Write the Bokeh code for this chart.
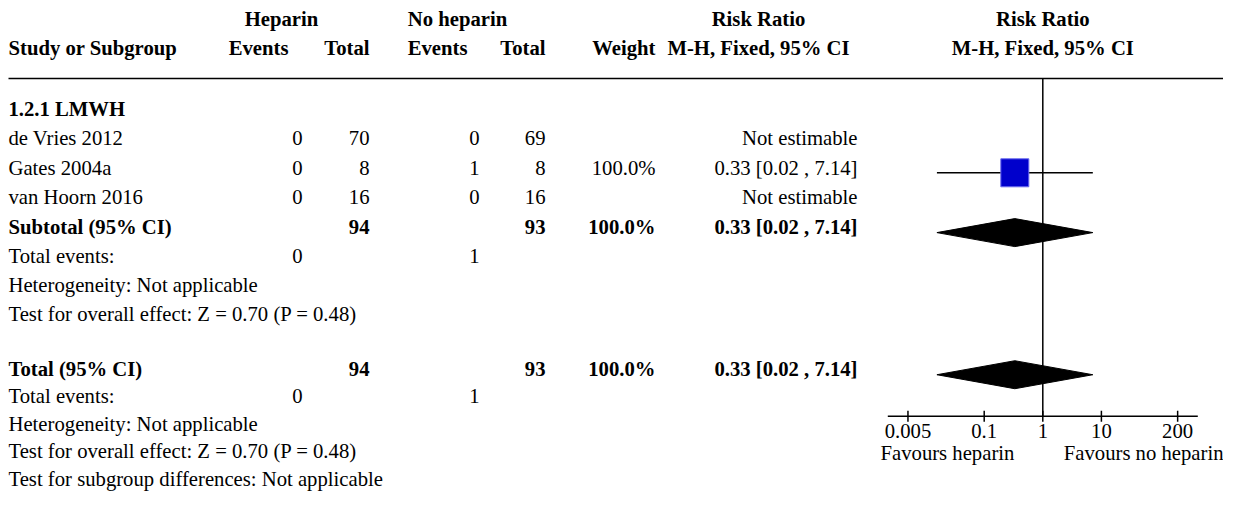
from bokeh.plotting import figure
from bokeh.models import Range1d, LogScale, ColumnDataSource
from bokeh.core.properties import value
from bokeh.embed import file_html
from bokeh.resources import INLINE

# ---------------- data ----------------
group_label = "1.2.1 LMWH"
studies = ["de Vries 2012", "Gates 2004a", "van Hoorn 2016"]
hep_events = [0, 0, 0]
hep_total = [70, 8, 16]
nohep_events = [0, 1, 0]
nohep_total = [69, 8, 16]
weights = [None, 100.0, None]
rr = [None, 0.333, None]
rr_lo = [None, 0.0156, None]
rr_hi = [None, 7.14, None]

subtotal_hep_total = 94
subtotal_nohep_total = 93
subtotal_weight = 100.0
subtotal_rr = [0.333, 0.0156, 7.14]
subtotal_hep_events = 0
subtotal_nohep_events = 1

total_hep_total = 94
total_nohep_total = 93
total_weight = 100.0
total_rr = [0.333, 0.0156, 7.14]
total_hep_events = 0
total_nohep_events = 1

heterogeneity = "Heterogeneity: Not applicable"
overall_effect = "Test for overall effect: Z = 0.70 (P = 0.48)"
subgroup_diff = "Test for subgroup differences: Not applicable"

tick_values = [0.005, 0.1, 1, 10, 200]
tick_labels = ["0.005", "0.1", "1", "10", "200"]
favours_left = "Favours heparin"
favours_right = "Favours no heparin"

# ---------------- layout ----------------
W, H = 1223, 491
FONT = value("Liberation Serif")
FS = "20.7px"
ROW0, PITCH = 108.5, 29.4
Y_KNEE, Y_LAST = 300.0, 478.0

def Y(v):
    """vertical layout position (gently compress the lower rows to fit the window)"""
    last = ROW0 + PITCH * 13
    if v <= Y_KNEE:
        return v
    return Y_KNEE + (v - Y_KNEE) * (Y_LAST - Y_KNEE) / (last - Y_KNEE)

def row(i):
    return Y(ROW0 + PITCH * i)

MARK_DY = 5.0
X_LEFT = 8
HE_R, HT_R, NE_R, NT_R, W_R, RR_R = 302, 369, 479, 545, 655, 857
CENTER_PX, PX_DEC = 1042.3, 58.6
AX_L_PX, AX_R_PX = 887.3, 1197.3
AX_Y, TICK_Y, FAV_Y = Y(424), Y(440), Y(463)
LINE_Y = 78

def px_to_rr(px):
    return 10 ** ((px - CENTER_PX) / PX_DEC)

def fmt_rr(v):
    return f"{v[0]:.2f} [{v[1]:.2f} , {v[2]:.2f}]"

p = figure(width=W, height=H, x_range=Range1d(0, W), y_range=Range1d(H, 0),
           output_backend="svg", toolbar_location=None,
           x_axis_location=None, y_axis_location=None, min_border=0)
p.outline_line_color = None
p.grid.visible = False
p.extra_x_ranges = {"rr": Range1d(px_to_rr(0), px_to_rr(W))}
p.extra_x_scales = {"rr": LogScale()}

def txt(x, y, t, align="left", bold=False, xr=None):
    kw = dict(x=x, y=y, text=t, text_font=FONT, text_font_size=FS,
              text_align=align, text_baseline="middle", text_color="black",
              text_font_style="bold" if bold else "normal")
    if xr:
        kw["x_range_name"] = xr
    p.text(**kw)

# headers
txt([281, 457, 758, CENTER_PX], [18] * 4,
    ["Heparin", "No heparin", "Risk Ratio", "Risk Ratio"], align="center", bold=True)
txt([X_LEFT], [47], ["Study or Subgroup"], bold=True)
txt([288, HT_R, 467, NT_R, W_R], [47] * 5, ["Events", "Total", "Events", "Total", "Weight"],
    align="right", bold=True)
txt([758, CENTER_PX], [47] * 2, ["M-H, Fixed, 95% CI"] * 2, align="center", bold=True)

p.segment(x0=[8], y0=[LINE_Y], x1=[1231], y1=[LINE_Y], line_color="black", line_width=1.5)

# group label
txt([X_LEFT], [row(0)], [group_label], bold=True)

# study rows
ys = [row(i + 1) for i in range(len(studies))]
txt([X_LEFT] * 3, ys, studies)
txt([HE_R] * 3, ys, [str(v) for v in hep_events], align="right")
txt([HT_R] * 3, ys, [str(v) for v in hep_total], align="right")
txt([NE_R] * 3, ys, [str(v) for v in nohep_events], align="right")
txt([NT_R] * 3, ys, [str(v) for v in nohep_total], align="right")
txt([W_R] * 3, ys, ["" if w is None else f"{w:.1f}%" for w in weights], align="right")
txt([RR_R] * 3, ys, ["Not estimable" if r is None else fmt_rr([r, l, h])
                     for r, l, h in zip(rr, rr_lo, rr_hi)], align="right")

# subtotal block
ys4 = row(4)
txt([X_LEFT], [ys4], ["Subtotal (95% CI)"], bold=True)
txt([HT_R, NT_R, W_R, RR_R], [ys4] * 4,
    [str(subtotal_hep_total), str(subtotal_nohep_total), f"{subtotal_weight:.1f}%", fmt_rr(subtotal_rr)],
    align="right", bold=True)
txt([X_LEFT, X_LEFT, X_LEFT], [row(5), row(6), row(7)], ["Total events:", heterogeneity, overall_effect])
txt([HE_R, NE_R], [row(5)] * 2, [str(subtotal_hep_events), str(subtotal_nohep_events)], align="right")

# total block
ys9 = row(9)
txt([X_LEFT], [ys9], ["Total (95% CI)"], bold=True)
txt([HT_R, NT_R, W_R, RR_R], [ys9] * 4,
    [str(total_hep_total), str(total_nohep_total), f"{total_weight:.1f}%", fmt_rr(total_rr)],
    align="right", bold=True)
txt([X_LEFT] * 4, [row(10), row(11), row(12), row(13)],
    ["Total events:", heterogeneity, overall_effect, subgroup_diff])
txt([HE_R, NE_R], [row(10)] * 2, [str(total_hep_events), str(total_nohep_events)], align="right")

# ---------------- forest plot ----------------
p.segment(x0=[1], y0=[LINE_Y], x1=[1], y1=[AX_Y], line_color="black", line_width=1.5,
          x_range_name="rr")

est = [(r, l, h, y + MARK_DY, w) for r, l, h, y, w in zip(rr, rr_lo, rr_hi, ys, weights) if r is not None]
src = ColumnDataSource(dict(rr=[e[0] for e in est], lo=[e[1] for e in est], hi=[e[2] for e in est],
                            y=[e[3] for e in est], size=[28 * (e[4] / 100.0) ** 0.5 for e in est]))
p.segment(x0="lo", y0="y", x1="hi", y1="y", source=src, line_color="black", line_width=1.5,
          x_range_name="rr")
p.scatter(x="rr", y="y", size="size", marker="square", source=src, fill_color="#0000CC",
          line_color="#6a6af0", line_width=1, x_range_name="rr")

dx, dy = [], []
for vals, yy in ((subtotal_rr, ys4 + MARK_DY + 1), (total_rr, ys9 + MARK_DY + 1)):
    r, l, h = vals
    dx.append([l, r, h, r])
    dy.append([yy, yy - 14, yy, yy + 14])
p.patches(xs=dx, ys=dy, fill_color="black", line_color="black", line_width=1, x_range_name="rr")

# axis
p.segment(x0=[px_to_rr(AX_L_PX)], y0=[AX_Y], x1=[px_to_rr(AX_R_PX)], y1=[AX_Y],
          line_color="black", line_width=1.5, x_range_name="rr")
p.segment(x0=tick_values, y0=[AX_Y - 5.5] * len(tick_values), x1=tick_values,
          y1=[AX_Y + 5.5] * len(tick_values), line_color="black", line_width=1.5, x_range_name="rr")
txt(tick_values, [TICK_Y] * len(tick_values), tick_labels, align="center", xr="rr")
txt([880], [FAV_Y], [favours_left], align="left")
txt([W], [FAV_Y], [favours_right], align="right")

open("out.html", "w").write(file_html(p, INLINE))
